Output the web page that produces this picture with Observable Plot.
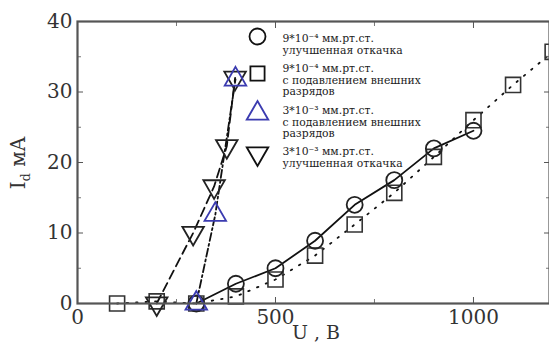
<!DOCTYPE html>
<html><head><meta charset="utf-8">
<script src="https://cdn.jsdelivr.net/npm/d3@7"></script>
<script src="https://cdn.jsdelivr.net/npm/@observablehq/plot@0.6"></script>
<style>body{margin:0;background:#fff}#chart{width:549px;height:345px;overflow:hidden}</style>
</head><body><div id="chart"></div>
<script>
// Series: 9e-4 improved pumping (circles, solid)
const voltageA = [300, 400, 500, 600, 700, 800, 900, 1000];
const currentA = [0, 2.8, 5, 8.9, 14, 17.5, 22, 24.5];
// Series: 9e-4 with suppression of external discharges (squares, dotted)
const voltageB = [100, 200, 300, 400, 500, 600, 700, 800, 900, 1000, 1100, 1200];
const currentB = [0, 0.3, 0, 1, 3.4, 6.8, 11.2, 15.7, 20.8, 26, 31, 35.7];
// Series: 3e-3 with suppression (blue up triangles, dash-dot)
const voltageC = [300, 348, 399];
const currentC = [0, 12.6, 31.8];
// Series: 3e-3 improved pumping (down triangles, dashed)
const voltageD = [200, 292, 345, 377, 398];
const currentD = [0, 10, 16.6, 22.3, 32];

const xTicks = [0, 500, 1000];
const xMinorTicks = [250, 750];
const yTicks = [0, 10, 20, 30, 40];
const yMinorTicks = [5, 15, 25, 35];

const legendLabels = [
  ["9*10⁻⁴ мм.рт.ст.", "улучшенная откачка"],
  ["9*10⁻⁴ мм.рт.ст.", "с подавлением внешних", "разрядов"],
  ["3*10⁻³ мм.рт.ст.", "с подавлением внешних", "разрядов"],
  ["3*10⁻³ мм.рт.ст.", "улучшенная откачка"]
];
const xLabel = "U , B";
const yLabelMain = "I";
const yLabelSub = "d";
const yLabelUnit = " мA";

const blue = "#3b3bb0";
const triangleDown = {
  draw(ctx, size) {
    const y = -Math.sqrt(size / (Math.sqrt(3) * 3));
    ctx.moveTo(0, -y * 2);
    ctx.lineTo(-Math.sqrt(3) * y, y);
    ctx.lineTo(Math.sqrt(3) * y, y);
    ctx.closePath();
  }
};

const pts = (xs, ys) => xs.map((x, i) => ({x, y: ys[i]}));
const A = pts(voltageA, currentA), B = pts(voltageB, currentB),
      C = pts(voltageC, currentC), D = pts(voltageD, currentD);

const symbols = ["circle", "square", "triangle", triangleDown];
const symColors = ["#111", "#111", blue, "#111"];
const legendSymDy = [15, 52, 92, 132];
const legendTextDy = [13, 43, 85, 126];

const legendMarks = [];
legendLabels.forEach((lines, i) => {
  legendMarks.push(Plot.dot([0], {frameAnchor: "top-left", dx: 180, dy: legendSymDy[i], symbol: symbols[i], r: 8, stroke: symColors[i], strokeWidth: 1.8, fill: "none"}));
  lines.forEach((t, j) => {
    legendMarks.push(Plot.text([t], {frameAnchor: "top-left", dx: 205, dy: legendTextDy[i] + j * 11.5, text: d => d, textAnchor: "start", fontSize: 10.8, fill: "#222"}));
  });
});

const fmt = d => String(d);

const chart = Plot.plot({
  width: 549, height: 345,
  marginLeft: 77, marginRight: 0, marginTop: 21, marginBottom: 42,
  style: {fontFamily: "DejaVu Serif", fontSize: "20px", color: "#222", background: "#fff"},
  x: {domain: [0, 1192]},
  y: {domain: [0, 40]},
  marks: [
    Plot.line(B, {x: "x", y: "y", stroke: "#111", strokeWidth: 1.8, strokeDasharray: "1.5,8"}),
    Plot.line(C, {x: "x", y: "y", stroke: "#111", strokeWidth: 1.8, strokeDasharray: "8,3,2,3"}),
    Plot.line(D, {x: "x", y: "y", stroke: "#111", strokeWidth: 1.8, strokeDasharray: "9,5"}),
    Plot.line(A, {x: "x", y: "y", stroke: "#111", strokeWidth: 1.8}),
    Plot.dot(B, {x: "x", y: "y", symbol: "square", r: 8.5, stroke: "#333", strokeWidth: 1.6}),
    Plot.dot(A, {x: "x", y: "y", symbol: "circle", r: 8, stroke: "#222", strokeWidth: 1.8}),
    Plot.dot(D, {x: "x", y: "y", symbol: triangleDown, r: 8, stroke: "#222", strokeWidth: 1.8}),
    Plot.dot(C, {x: "x", y: "y", symbol: "triangle", r: 8, stroke: blue, strokeWidth: 1.8}),
    // ticks (inward) on all sides
    Plot.axisX(xTicks, {anchor: "bottom", tickSize: -6, tickFormat: () => "", label: null, stroke: "#555"}),
    Plot.axisX(xMinorTicks, {anchor: "bottom", tickSize: -4, tickFormat: () => "", label: null, stroke: "#777"}),
    Plot.axisX(xTicks, {anchor: "top", tickSize: -6, tickFormat: () => "", label: null, stroke: "#555"}),
    Plot.axisX(xMinorTicks, {anchor: "top", tickSize: -4, tickFormat: () => "", label: null, stroke: "#777"}),
    Plot.axisY(yTicks, {anchor: "left", tickSize: -6, tickFormat: () => "", label: null, stroke: "#555"}),
    Plot.axisY(yMinorTicks, {anchor: "left", tickSize: -4, tickFormat: () => "", label: null, stroke: "#777"}),
    Plot.axisY(yTicks, {anchor: "right", tickSize: -6, tickFormat: () => "", label: null, stroke: "#555"}),
    Plot.axisY(yMinorTicks, {anchor: "right", tickSize: -4, tickFormat: () => "", label: null, stroke: "#777"}),
    // tick labels
    Plot.axisX(xTicks, {anchor: "bottom", tickSize: 0, tickPadding: 6, tickFormat: fmt, label: null, fill: "#333"}),
    Plot.axisY(yTicks, {anchor: "left", tickSize: 0, tickPadding: 5, tickFormat: fmt, label: null, fill: "#333"}),
    Plot.frame({stroke: "#555", strokeWidth: 2.2}),
    ...legendMarks
  ]
});
document.getElementById("chart").appendChild(chart);

const svg = d3.select(chart);
svg.append("text")
  .attr("x", 316).attr("y", 339)
  .attr("text-anchor", "middle")
  .attr("font-family", "DejaVu Serif").attr("font-size", 19).attr("fill", "#333")
  .text(xLabel);
const yl = svg.append("text")
  .attr("transform", "translate(25,163) rotate(-90)")
  .attr("text-anchor", "middle")
  .attr("font-family", "DejaVu Serif").attr("font-size", 20).attr("fill", "#333");
yl.append("tspan").text(yLabelMain);
yl.append("tspan").attr("font-size", 13).attr("dy", 5).text(yLabelSub);
yl.append("tspan").attr("dy", -5).text(yLabelUnit);
</script>
</body></html>
